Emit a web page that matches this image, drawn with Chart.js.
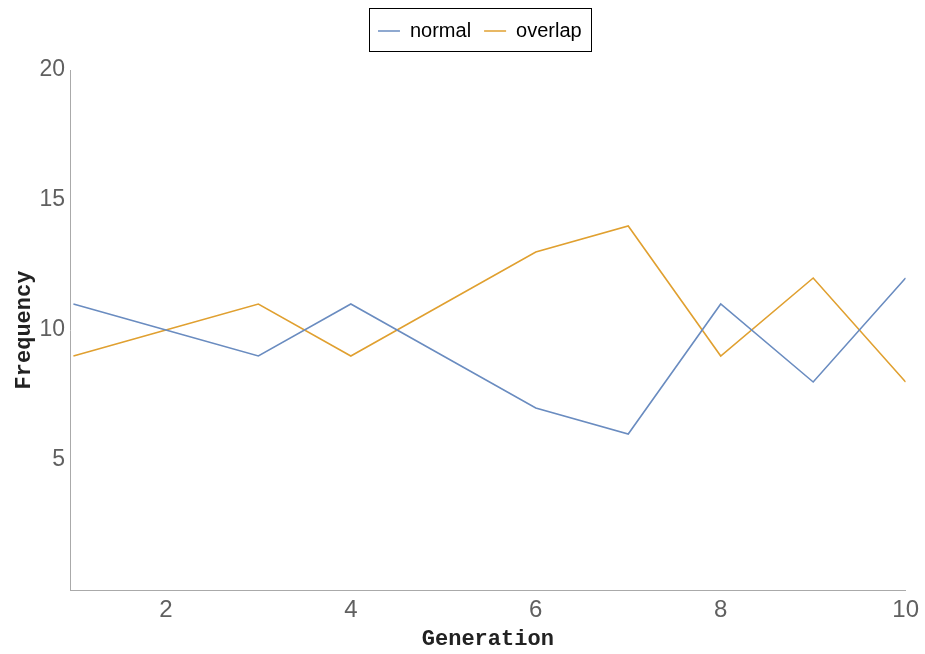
<!DOCTYPE html>
<html>
<head>
<meta charset="utf-8">
<script src="https://cdn.jsdelivr.net/npm/chart.js@4.4.1/dist/chart.umd.min.js"></script>
<style>
  html, body { margin: 0; padding: 0; background: #fff; }
  #chart { display: block; }
</style>
</head>
<body>
<canvas id="chart" width="925" height="654"></canvas>
<script>
// data
const generations = [1, 2, 3, 4, 5, 6, 7, 8, 9, 10];
const normalFreq = [11, 10, 9, 11, 9, 7, 6, 11, 8, 12];
const overlapFreq = [9, 10, 11, 9, 11, 13, 14, 9, 12, 8];
const xTicks = [2, 4, 6, 8, 10];
const yTicks = [5, 10, 15, 20];

const toPoints = (ys) => generations.map((g, i) => ({ x: g, y: ys[i] }));

// legend sits a bit left of the plot centre in the original, and has a frame
const legendFrame = {
    id: 'legendFrame',
    afterLayout(chart) {
        chart.legend.left -= 8;
        chart.legend.right -= 8;
    },
    afterDraw(chart) {
        const boxes = chart.legend.legendHitBoxes;
        if (!boxes || !boxes.length) return;
        const left = Math.min(...boxes.map(b => b.left)) - 9;
        const right = Math.max(...boxes.map(b => b.left + b.width)) + 9;
        const top = boxes[0].top - 13;
        const bottom = boxes[0].top + boxes[0].height + 10;
        const ctx = chart.ctx;
        ctx.save();
        ctx.strokeStyle = '#000';
        ctx.lineWidth = 1;
        ctx.strokeRect(Math.round(left) + 0.5, Math.round(top) + 0.5, Math.round(right - left), Math.round(bottom - top));
        ctx.restore();
    }
};

const ctx = document.getElementById('chart').getContext('2d');
new Chart(ctx, {
    type: 'line',
    data: {
        datasets: [{
            label: 'normal',
            data: toPoints(normalFreq),
            borderColor: '#6a8cc0',
            backgroundColor: '#6a8cc0',
            borderWidth: 1.6,
            pointRadius: 0,
            tension: 0
        }, {
            label: 'overlap',
            data: toPoints(overlapFreq),
            borderColor: '#e0a030',
            backgroundColor: '#e0a030',
            borderWidth: 1.6,
            pointRadius: 0,
            tension: 0
        }]
    },
    options: {
        responsive: false,
        animation: false,
        layout: { padding: { top: 8, right: 18, left: 0, bottom: 0 } },
        plugins: {
            tooltip: { enabled: false },
            legend: {
                position: 'top',
                fullSize: false,
                labels: {
                    usePointStyle: true,
                    pointStyle: 'line',
                    pointStyleWidth: 22,
                    padding: 13,
                    color: '#000',
                    font: { family: 'Liberation Sans, Arial, sans-serif', size: 20 }
                }
            }
        },
        scales: {
            x: {
                type: 'linear',
                min: 0.963,
                max: 10,
                grid: { display: false, drawTicks: false },
                border: { display: true, color: '#aaa', width: 1 },
                afterBuildTicks: (s) => { s.ticks = xTicks.map(v => ({ value: v })); },
                afterFit: (s) => { s.height = 64; },
                ticks: {
                    padding: 6,
                    color: '#606060',
                    maxRotation: 0,
                    font: { family: 'Liberation Sans Narrow, Liberation Sans, sans-serif', size: 24 }
                },
                title: {
                    display: true,
                    text: 'Generation',
                    color: '#222',
                    padding: { top: 0, bottom: 1 },
                    font: { family: 'Liberation Mono, Courier New, monospace', size: 22, weight: 'bold' }
                }
            },
            xTop: {
                type: 'linear',
                position: 'top',
                display: true,
                grid: { display: false, drawTicks: false },
                border: { display: false },
                ticks: { display: false },
                afterFit: (s) => { s.height = 19; }
            },
            y: {
                min: 0,
                max: 20,
                grid: { display: false, drawTicks: false },
                border: { display: true, color: '#aaa', width: 1 },
                afterBuildTicks: (s) => { s.ticks = yTicks.map(v => ({ value: v })); },
                afterFit: (s) => { s.width = 70; },
                ticks: {
                    padding: 5,
                    color: '#606060',
                    font: { family: 'Liberation Sans, Arial, sans-serif', size: 23 }
                },
                title: {
                    display: true,
                    text: 'Frequency',
                    color: '#222',
                    padding: { top: 11, bottom: 0 },
                    font: { family: 'Liberation Mono, Courier New, monospace', size: 22, weight: 'bold' }
                }
            }
        }
    },
    plugins: [legendFrame]
});
</script>
</body>
</html>
